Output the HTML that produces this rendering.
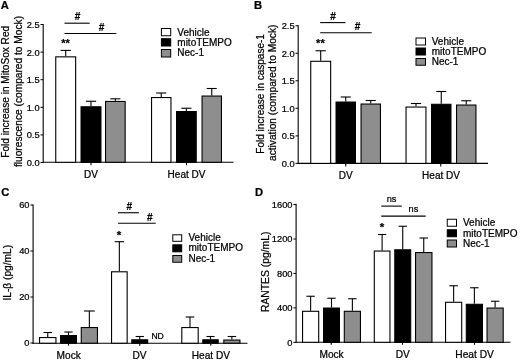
<!DOCTYPE html>
<html><head><meta charset="utf-8"><title>Figure</title>
<style>
html,body{margin:0;padding:0;background:#fff;}
svg{display:block;font-family:"Liberation Sans",sans-serif;fill:#000;}
text{stroke:#000;stroke-width:0.24;}
</style></head>
<body>
<svg width="520" height="360" viewBox="0 0 520 360">
<defs><filter id="soft" x="0" y="0" width="520" height="360" filterUnits="userSpaceOnUse"><feGaussianBlur stdDeviation="0.3"/></filter></defs>
<rect x="0" y="0" width="520" height="360" fill="#fff"/>
<g filter="url(#soft)">
<rect x="0" y="0" width="520" height="360" fill="#fff"/>
<text x="0.8" y="9.4" font-size="11.2" text-anchor="start" font-weight="bold" >A</text>
<line x1="43.2" y1="24" x2="43.2" y2="162.9" stroke="#000" stroke-width="1.1"/>
<line x1="42.6" y1="162.3" x2="233.5" y2="162.3" stroke="#000" stroke-width="1.1"/>
<line x1="40.5" y1="24.5" x2="43.2" y2="24.5" stroke="#000" stroke-width="1.0"/>
<text x="39.6" y="27.9" font-size="9.3" text-anchor="end" font-weight="normal" >2.5</text>
<line x1="40.5" y1="52.1" x2="43.2" y2="52.1" stroke="#000" stroke-width="1.0"/>
<text x="39.6" y="55.5" font-size="9.3" text-anchor="end" font-weight="normal" >2.0</text>
<line x1="40.5" y1="79.7" x2="43.2" y2="79.7" stroke="#000" stroke-width="1.0"/>
<text x="39.6" y="83.10000000000001" font-size="9.3" text-anchor="end" font-weight="normal" >1.5</text>
<line x1="40.5" y1="107.3" x2="43.2" y2="107.3" stroke="#000" stroke-width="1.0"/>
<text x="39.6" y="110.7" font-size="9.3" text-anchor="end" font-weight="normal" >1.0</text>
<line x1="40.5" y1="134.9" x2="43.2" y2="134.9" stroke="#000" stroke-width="1.0"/>
<text x="39.6" y="138.3" font-size="9.3" text-anchor="end" font-weight="normal" >0.5</text>
<line x1="40.5" y1="162.5" x2="43.2" y2="162.5" stroke="#000" stroke-width="1.0"/>
<text x="39.6" y="165.9" font-size="9.3" text-anchor="end" font-weight="normal" >0.0</text>
<text transform="translate(9.1,91.8) rotate(-90)" font-size="10.1" text-anchor="middle">Fold increase in MitoSox Red</text>
<text transform="translate(21.8,91.5) rotate(-90)" font-size="10.2" text-anchor="middle">fluorescence (compared to Mock)</text>
<line x1="65.7" y1="50.4" x2="65.7" y2="56.3" stroke="#000" stroke-width="1.1"/>
<line x1="60.55500000000001" y1="50.4" x2="70.845" y2="50.4" stroke="#000" stroke-width="1.1"/>
<rect x="55.75" y="56.849999999999994" width="19.9" height="105.45000000000002" fill="#fff" stroke="#000" stroke-width="1.1"/>
<line x1="91.0" y1="101.25" x2="91.0" y2="106.25" stroke="#000" stroke-width="1.1"/>
<line x1="85.855" y1="101.25" x2="96.145" y2="101.25" stroke="#000" stroke-width="1.1"/>
<rect x="81.05" y="106.8" width="19.9" height="55.500000000000014" fill="#000" stroke="#000" stroke-width="1.1"/>
<line x1="115.35" y1="98.8" x2="115.35" y2="100.9" stroke="#000" stroke-width="1.1"/>
<line x1="110.2785" y1="98.8" x2="120.4215" y2="98.8" stroke="#000" stroke-width="1.1"/>
<rect x="105.55" y="101.45" width="19.6" height="60.85000000000001" fill="#8e8e8e" stroke="#000" stroke-width="1.1"/>
<line x1="161.25" y1="93" x2="161.25" y2="97" stroke="#000" stroke-width="1.1"/>
<line x1="156.2275" y1="93" x2="166.2725" y2="93" stroke="#000" stroke-width="1.1"/>
<rect x="151.55" y="97.55" width="19.4" height="64.75000000000001" fill="#fff" stroke="#000" stroke-width="1.1"/>
<line x1="186.375" y1="108.25" x2="186.375" y2="111" stroke="#000" stroke-width="1.1"/>
<line x1="181.29125" y1="108.25" x2="191.45875" y2="108.25" stroke="#000" stroke-width="1.1"/>
<rect x="176.55" y="111.55" width="19.65" height="50.750000000000014" fill="#000" stroke="#000" stroke-width="1.1"/>
<line x1="211.75" y1="88.5" x2="211.75" y2="95.5" stroke="#000" stroke-width="1.1"/>
<line x1="206.7275" y1="88.5" x2="216.7725" y2="88.5" stroke="#000" stroke-width="1.1"/>
<rect x="202.05" y="96.05" width="19.4" height="66.25000000000001" fill="#8e8e8e" stroke="#000" stroke-width="1.1"/>
<line x1="91" y1="162.3" x2="91" y2="165.3" stroke="#000" stroke-width="1.1"/>
<line x1="186.5" y1="162.3" x2="186.5" y2="165.3" stroke="#000" stroke-width="1.1"/>
<text x="91" y="177.5" font-size="10" text-anchor="middle" font-weight="normal" >DV</text>
<text x="186.5" y="177.5" font-size="10" text-anchor="middle" font-weight="normal" >Heat DV</text>
<line x1="64.5" y1="23.2" x2="89.7" y2="23.2" stroke="#000" stroke-width="1.1"/>
<text x="77.5" y="20" font-size="11" text-anchor="middle" font-weight="bold" textLength="5.6" lengthAdjust="spacingAndGlyphs">#</text>
<line x1="64.5" y1="33.45" x2="116.3" y2="33.45" stroke="#000" stroke-width="1.1"/>
<text x="101.5" y="30.6" font-size="11" text-anchor="middle" font-weight="bold" textLength="5.6" lengthAdjust="spacingAndGlyphs">#</text>
<text x="65.5" y="46.7" font-size="11" text-anchor="middle" font-weight="bold" >**</text>
<rect x="161.4" y="28.5" width="9.299999999999983" height="7.25" fill="#fff" stroke="#000" stroke-width="1"/>
<text x="177.3" y="35.5" font-size="10" text-anchor="start" font-weight="normal" >Vehicle</text>
<rect x="161.4" y="38.7" width="9.299999999999983" height="7.299999999999997" fill="#000" stroke="#000" stroke-width="1"/>
<text x="177.3" y="45.7" font-size="10" text-anchor="start" font-weight="normal" >mitoTEMPO</text>
<rect x="161.4" y="49.5" width="9.299999999999983" height="7.5" fill="#8e8e8e" stroke="#000" stroke-width="1"/>
<text x="177.3" y="56.2" font-size="10" text-anchor="start" font-weight="normal" >Nec-1</text>
<text x="254.1" y="8.9" font-size="11.2" text-anchor="start" font-weight="bold" >B</text>
<line x1="298.2" y1="25.2" x2="298.2" y2="164.0" stroke="#000" stroke-width="1.1"/>
<line x1="297.59999999999997" y1="163.4" x2="488" y2="163.4" stroke="#000" stroke-width="1.1"/>
<line x1="295.5" y1="25.75" x2="298.2" y2="25.75" stroke="#000" stroke-width="1.0"/>
<text x="294.59999999999997" y="29.15" font-size="9.3" text-anchor="end" font-weight="normal" >2.5</text>
<line x1="295.5" y1="53.25" x2="298.2" y2="53.25" stroke="#000" stroke-width="1.0"/>
<text x="294.59999999999997" y="56.65" font-size="9.3" text-anchor="end" font-weight="normal" >2.0</text>
<line x1="295.5" y1="80.75" x2="298.2" y2="80.75" stroke="#000" stroke-width="1.0"/>
<text x="294.59999999999997" y="84.15" font-size="9.3" text-anchor="end" font-weight="normal" >1.5</text>
<line x1="295.5" y1="108.25" x2="298.2" y2="108.25" stroke="#000" stroke-width="1.0"/>
<text x="294.59999999999997" y="111.65" font-size="9.3" text-anchor="end" font-weight="normal" >1.0</text>
<line x1="295.5" y1="135.9" x2="298.2" y2="135.9" stroke="#000" stroke-width="1.0"/>
<text x="294.59999999999997" y="139.3" font-size="9.3" text-anchor="end" font-weight="normal" >0.5</text>
<line x1="295.5" y1="163.4" x2="298.2" y2="163.4" stroke="#000" stroke-width="1.0"/>
<text x="294.59999999999997" y="166.8" font-size="9.3" text-anchor="end" font-weight="normal" >0.0</text>
<text transform="translate(263.6,93.9) rotate(-90)" font-size="10.0" text-anchor="middle">Fold increase in caspase-1</text>
<text transform="translate(276.3,92.8) rotate(-90)" font-size="10.2" text-anchor="middle">activation (compared to Mock)</text>
<line x1="320.7" y1="50.75" x2="320.7" y2="60.75" stroke="#000" stroke-width="1.1"/>
<line x1="315.555" y1="50.75" x2="325.84499999999997" y2="50.75" stroke="#000" stroke-width="1.1"/>
<rect x="310.75" y="61.3" width="19.9" height="102.10000000000001" fill="#fff" stroke="#000" stroke-width="1.1"/>
<line x1="345.75" y1="97" x2="345.75" y2="101.5" stroke="#000" stroke-width="1.1"/>
<line x1="340.7275" y1="97" x2="350.7725" y2="97" stroke="#000" stroke-width="1.1"/>
<rect x="336.05" y="102.05" width="19.4" height="61.35000000000001" fill="#000" stroke="#000" stroke-width="1.1"/>
<line x1="370.75" y1="100.5" x2="370.75" y2="103.5" stroke="#000" stroke-width="1.1"/>
<line x1="365.7275" y1="100.5" x2="375.7725" y2="100.5" stroke="#000" stroke-width="1.1"/>
<rect x="361.05" y="104.05" width="19.4" height="59.35000000000001" fill="#8e8e8e" stroke="#000" stroke-width="1.1"/>
<line x1="416.0" y1="103.5" x2="416.0" y2="106.5" stroke="#000" stroke-width="1.1"/>
<line x1="410.855" y1="103.5" x2="421.145" y2="103.5" stroke="#000" stroke-width="1.1"/>
<rect x="406.05" y="107.05" width="19.9" height="56.35000000000001" fill="#fff" stroke="#000" stroke-width="1.1"/>
<line x1="441.25" y1="91.5" x2="441.25" y2="103.75" stroke="#000" stroke-width="1.1"/>
<line x1="436.2275" y1="91.5" x2="446.2725" y2="91.5" stroke="#000" stroke-width="1.1"/>
<rect x="431.55" y="104.3" width="19.4" height="59.10000000000001" fill="#000" stroke="#000" stroke-width="1.1"/>
<line x1="466.25" y1="100.75" x2="466.25" y2="104.5" stroke="#000" stroke-width="1.1"/>
<line x1="461.2275" y1="100.75" x2="471.2725" y2="100.75" stroke="#000" stroke-width="1.1"/>
<rect x="456.55" y="105.05" width="19.4" height="58.35000000000001" fill="#8e8e8e" stroke="#000" stroke-width="1.1"/>
<line x1="345.75" y1="163.4" x2="345.75" y2="166.4" stroke="#000" stroke-width="1.1"/>
<line x1="440.75" y1="163.4" x2="440.75" y2="166.4" stroke="#000" stroke-width="1.1"/>
<text x="345.75" y="178.6" font-size="10" text-anchor="middle" font-weight="normal" >DV</text>
<text x="441" y="178.6" font-size="10" text-anchor="middle" font-weight="normal" >Heat DV</text>
<line x1="320.2" y1="22.6" x2="345.5" y2="22.6" stroke="#000" stroke-width="1.1"/>
<text x="333" y="19.8" font-size="11" text-anchor="middle" font-weight="bold" textLength="5.6" lengthAdjust="spacingAndGlyphs">#</text>
<line x1="320.2" y1="32.7" x2="371.7" y2="32.7" stroke="#000" stroke-width="1.1"/>
<text x="357.5" y="30" font-size="11" text-anchor="middle" font-weight="bold" textLength="5.6" lengthAdjust="spacingAndGlyphs">#</text>
<text x="320.4" y="47.0" font-size="11" text-anchor="middle" font-weight="bold" >**</text>
<rect x="416.0" y="38.0" width="9.5" height="7.0" fill="#fff" stroke="#000" stroke-width="1"/>
<text x="431.75" y="44.8" font-size="10" text-anchor="start" font-weight="normal" >Vehicle</text>
<rect x="416.0" y="48.0" width="9.5" height="7.0" fill="#000" stroke="#000" stroke-width="1"/>
<text x="431.75" y="55" font-size="10" text-anchor="start" font-weight="normal" >mitoTEMPO</text>
<rect x="416.0" y="58.5" width="9.5" height="6.75" fill="#8e8e8e" stroke="#000" stroke-width="1"/>
<text x="431.75" y="65.25" font-size="10" text-anchor="start" font-weight="normal" >Nec-1</text>
<text x="1.3" y="195.9" font-size="11.2" text-anchor="start" font-weight="bold" >C</text>
<line x1="33.1" y1="204.5" x2="33.1" y2="343.8" stroke="#000" stroke-width="1.1"/>
<line x1="32.5" y1="343.2" x2="247.5" y2="343.2" stroke="#000" stroke-width="1.1"/>
<line x1="30.400000000000002" y1="205" x2="33.1" y2="205" stroke="#000" stroke-width="1.0"/>
<text x="29.5" y="208.4" font-size="9.3" text-anchor="end" font-weight="normal" >60</text>
<line x1="30.400000000000002" y1="251" x2="33.1" y2="251" stroke="#000" stroke-width="1.0"/>
<text x="29.5" y="254.4" font-size="9.3" text-anchor="end" font-weight="normal" >40</text>
<line x1="30.400000000000002" y1="297" x2="33.1" y2="297" stroke="#000" stroke-width="1.0"/>
<text x="29.5" y="300.4" font-size="9.3" text-anchor="end" font-weight="normal" >20</text>
<line x1="30.400000000000002" y1="343" x2="33.1" y2="343" stroke="#000" stroke-width="1.0"/>
<text x="29.5" y="346.4" font-size="9.3" text-anchor="end" font-weight="normal" >0</text>
<text transform="translate(10.8,272.7) rotate(-90)" font-size="10.2" text-anchor="middle">IL-β (pg/mL)</text>
<line x1="47.75" y1="332.5" x2="47.75" y2="337" stroke="#000" stroke-width="1.1"/>
<line x1="43.4625" y1="332.5" x2="52.0375" y2="332.5" stroke="#000" stroke-width="1.1"/>
<rect x="39.55" y="337.55" width="16.4" height="5.649999999999989" fill="#fff" stroke="#000" stroke-width="1.1"/>
<line x1="68.5" y1="332" x2="68.5" y2="335" stroke="#000" stroke-width="1.1"/>
<line x1="64.335" y1="332" x2="72.665" y2="332" stroke="#000" stroke-width="1.1"/>
<rect x="60.55" y="335.55" width="15.9" height="7.649999999999989" fill="#000" stroke="#000" stroke-width="1.1"/>
<line x1="89.35" y1="311" x2="89.35" y2="327" stroke="#000" stroke-width="1.1"/>
<line x1="83.94999999999999" y1="311" x2="94.75" y2="311" stroke="#000" stroke-width="1.1"/>
<rect x="81.25" y="327.55" width="16.199999999999996" height="15.649999999999988" fill="#8e8e8e" stroke="#000" stroke-width="1.1"/>
<line x1="119.35" y1="241.7" x2="119.35" y2="271.25" stroke="#000" stroke-width="1.1"/>
<line x1="114.64999999999999" y1="241.7" x2="124.05" y2="241.7" stroke="#000" stroke-width="1.1"/>
<rect x="111.55" y="271.8" width="15.600000000000003" height="71.39999999999999" fill="#fff" stroke="#000" stroke-width="1.1"/>
<line x1="139.75" y1="336.5" x2="139.75" y2="339.25" stroke="#000" stroke-width="1.1"/>
<line x1="135.585" y1="336.5" x2="143.915" y2="336.5" stroke="#000" stroke-width="1.1"/>
<rect x="131.8" y="339.8" width="15.9" height="3.399999999999989" fill="#000" stroke="#000" stroke-width="1.1"/>
<line x1="190.0" y1="317" x2="190.0" y2="327" stroke="#000" stroke-width="1.1"/>
<line x1="185.7125" y1="317" x2="194.2875" y2="317" stroke="#000" stroke-width="1.1"/>
<rect x="181.8" y="327.55" width="16.4" height="15.649999999999988" fill="#fff" stroke="#000" stroke-width="1.1"/>
<line x1="210.5" y1="336.5" x2="210.5" y2="339.25" stroke="#000" stroke-width="1.1"/>
<line x1="206.4575" y1="336.5" x2="214.5425" y2="336.5" stroke="#000" stroke-width="1.1"/>
<rect x="202.8" y="339.8" width="15.4" height="3.399999999999989" fill="#000" stroke="#000" stroke-width="1.1"/>
<line x1="231.875" y1="336.5" x2="231.875" y2="339.5" stroke="#000" stroke-width="1.1"/>
<line x1="227.64875" y1="336.5" x2="236.10125" y2="336.5" stroke="#000" stroke-width="1.1"/>
<rect x="223.8" y="340.05" width="16.15" height="3.149999999999989" fill="#8e8e8e" stroke="#000" stroke-width="1.1"/>
<line x1="68.5" y1="343.2" x2="68.5" y2="345.7" stroke="#000" stroke-width="1.1"/>
<line x1="139.75" y1="343.2" x2="139.75" y2="345.7" stroke="#000" stroke-width="1.1"/>
<line x1="210.75" y1="343.2" x2="210.75" y2="345.7" stroke="#000" stroke-width="1.1"/>
<text x="68.7" y="358.6" font-size="10.15" text-anchor="middle" font-weight="normal" >Mock</text>
<text x="139.6" y="358.5" font-size="10.15" text-anchor="middle" font-weight="normal" >DV</text>
<text x="210.9" y="358.5" font-size="10.15" text-anchor="middle" font-weight="normal" >Heat DV</text>
<text x="157.6" y="338.9" font-size="8.6" text-anchor="middle" font-weight="normal" >ND</text>
<line x1="118" y1="212.75" x2="138.9" y2="212.75" stroke="#000" stroke-width="1.1"/>
<text x="129.3" y="210" font-size="11" text-anchor="middle" font-weight="bold" textLength="5.6" lengthAdjust="spacingAndGlyphs">#</text>
<line x1="118" y1="223.25" x2="155.7" y2="223.25" stroke="#000" stroke-width="1.1"/>
<text x="149.7" y="220.8" font-size="11" text-anchor="middle" font-weight="bold" textLength="5.6" lengthAdjust="spacingAndGlyphs">#</text>
<text x="119" y="238.9" font-size="11.5" text-anchor="middle" font-weight="bold" >*</text>
<rect x="172.8" y="234.8" width="8.899999999999977" height="6.5" fill="#fff" stroke="#000" stroke-width="1"/>
<text x="188.5" y="241.2" font-size="10" text-anchor="start" font-weight="normal" >Vehicle</text>
<rect x="172.8" y="244.8" width="8.899999999999977" height="7.0" fill="#000" stroke="#000" stroke-width="1"/>
<text x="188.5" y="251.4" font-size="10" text-anchor="start" font-weight="normal" >mitoTEMPO</text>
<rect x="172.8" y="255.5" width="8.899999999999977" height="6.75" fill="#8e8e8e" stroke="#000" stroke-width="1"/>
<text x="188.5" y="261.8" font-size="10" text-anchor="start" font-weight="normal" >Nec-1</text>
<text x="255" y="196" font-size="11.2" text-anchor="start" font-weight="bold" >D</text>
<line x1="296.1" y1="203.7" x2="296.1" y2="342.90000000000003" stroke="#000" stroke-width="1.1"/>
<line x1="295.5" y1="342.3" x2="510.4" y2="342.3" stroke="#000" stroke-width="1.1"/>
<line x1="293.40000000000003" y1="204.5" x2="296.1" y2="204.5" stroke="#000" stroke-width="1.0"/>
<text x="292.5" y="207.9" font-size="9.3" text-anchor="end" font-weight="normal" >1600</text>
<line x1="293.40000000000003" y1="239" x2="296.1" y2="239" stroke="#000" stroke-width="1.0"/>
<text x="292.5" y="242.4" font-size="9.3" text-anchor="end" font-weight="normal" >1200</text>
<line x1="293.40000000000003" y1="273.45" x2="296.1" y2="273.45" stroke="#000" stroke-width="1.0"/>
<text x="292.5" y="276.84999999999997" font-size="9.3" text-anchor="end" font-weight="normal" >800</text>
<line x1="293.40000000000003" y1="307.9" x2="296.1" y2="307.9" stroke="#000" stroke-width="1.0"/>
<text x="292.5" y="311.29999999999995" font-size="9.3" text-anchor="end" font-weight="normal" >400</text>
<line x1="293.40000000000003" y1="342.4" x2="296.1" y2="342.4" stroke="#000" stroke-width="1.0"/>
<text x="292.5" y="345.79999999999995" font-size="9.3" text-anchor="end" font-weight="normal" >0</text>
<text transform="translate(268.6,271.8) rotate(-90)" font-size="10.35" text-anchor="middle">RANTES (pg/mL)</text>
<line x1="310.625" y1="296.25" x2="310.625" y2="310.75" stroke="#000" stroke-width="1.1"/>
<line x1="306.39875" y1="296.25" x2="314.85125" y2="296.25" stroke="#000" stroke-width="1.1"/>
<rect x="302.55" y="311.3" width="16.15" height="31.00000000000001" fill="#fff" stroke="#000" stroke-width="1.1"/>
<line x1="331.5" y1="298.25" x2="331.5" y2="307.5" stroke="#000" stroke-width="1.1"/>
<line x1="327.335" y1="298.25" x2="335.665" y2="298.25" stroke="#000" stroke-width="1.1"/>
<rect x="323.55" y="308.05" width="15.9" height="34.250000000000014" fill="#000" stroke="#000" stroke-width="1.1"/>
<line x1="352.375" y1="298.75" x2="352.375" y2="310.75" stroke="#000" stroke-width="1.1"/>
<line x1="348.14875" y1="298.75" x2="356.60125" y2="298.75" stroke="#000" stroke-width="1.1"/>
<rect x="344.3" y="311.3" width="16.15" height="31.00000000000001" fill="#8e8e8e" stroke="#000" stroke-width="1.1"/>
<line x1="382.125" y1="234.5" x2="382.125" y2="250.5" stroke="#000" stroke-width="1.1"/>
<line x1="378.02125" y1="234.5" x2="386.22875" y2="234.5" stroke="#000" stroke-width="1.1"/>
<rect x="374.3" y="251.05" width="15.65" height="91.25000000000001" fill="#fff" stroke="#000" stroke-width="1.1"/>
<line x1="402.75" y1="226.25" x2="402.75" y2="249.25" stroke="#000" stroke-width="1.1"/>
<line x1="398.585" y1="226.25" x2="406.915" y2="226.25" stroke="#000" stroke-width="1.1"/>
<rect x="394.8" y="249.8" width="15.9" height="92.50000000000001" fill="#000" stroke="#000" stroke-width="1.1"/>
<line x1="423.75" y1="238" x2="423.75" y2="252" stroke="#000" stroke-width="1.1"/>
<line x1="419.4625" y1="238" x2="428.0375" y2="238" stroke="#000" stroke-width="1.1"/>
<rect x="415.55" y="252.55" width="16.4" height="89.75000000000001" fill="#8e8e8e" stroke="#000" stroke-width="1.1"/>
<line x1="453.625" y1="285.75" x2="453.625" y2="301.75" stroke="#000" stroke-width="1.1"/>
<line x1="449.39875" y1="285.75" x2="457.85125" y2="285.75" stroke="#000" stroke-width="1.1"/>
<rect x="445.55" y="302.3" width="16.15" height="40.000000000000014" fill="#fff" stroke="#000" stroke-width="1.1"/>
<line x1="474.375" y1="287.75" x2="474.375" y2="303.75" stroke="#000" stroke-width="1.1"/>
<line x1="470.14875" y1="287.75" x2="478.60125" y2="287.75" stroke="#000" stroke-width="1.1"/>
<rect x="466.3" y="304.3" width="16.15" height="38.000000000000014" fill="#000" stroke="#000" stroke-width="1.1"/>
<line x1="495.125" y1="301.25" x2="495.125" y2="307.5" stroke="#000" stroke-width="1.1"/>
<line x1="490.89875" y1="301.25" x2="499.35125" y2="301.25" stroke="#000" stroke-width="1.1"/>
<rect x="487.05" y="308.05" width="16.15" height="34.250000000000014" fill="#8e8e8e" stroke="#000" stroke-width="1.1"/>
<line x1="331.25" y1="342.3" x2="331.25" y2="344.8" stroke="#000" stroke-width="1.1"/>
<line x1="402.5" y1="342.3" x2="402.5" y2="344.8" stroke="#000" stroke-width="1.1"/>
<line x1="474.5" y1="342.3" x2="474.5" y2="344.8" stroke="#000" stroke-width="1.1"/>
<text x="331.6" y="358.4" font-size="10.15" text-anchor="middle" font-weight="normal" >Mock</text>
<text x="402.8" y="358.3" font-size="10.15" text-anchor="middle" font-weight="normal" >DV</text>
<text x="474.6" y="358.3" font-size="10.2" text-anchor="middle" font-weight="normal" >Heat DV</text>
<line x1="381.25" y1="206.1" x2="401.75" y2="206.1" stroke="#000" stroke-width="1.1"/>
<text x="391.5" y="201.8" font-size="9.2" text-anchor="middle" font-weight="normal" >ns</text>
<line x1="381.25" y1="216.1" x2="425.7" y2="216.1" stroke="#000" stroke-width="1.1"/>
<text x="413.4" y="211.8" font-size="9.2" text-anchor="middle" font-weight="normal" >ns</text>
<text x="382.1" y="230.7" font-size="11.5" text-anchor="middle" font-weight="bold" >*</text>
<rect x="447.25" y="219.25" width="9.25" height="7.0" fill="#fff" stroke="#000" stroke-width="1"/>
<text x="463" y="226.2" font-size="10" text-anchor="start" font-weight="normal" >Vehicle</text>
<rect x="447.25" y="229.75" width="9.25" height="7.0" fill="#000" stroke="#000" stroke-width="1"/>
<text x="463" y="236.5" font-size="10" text-anchor="start" font-weight="normal" >mitoTEMPO</text>
<rect x="447.25" y="240.0" width="9.25" height="7.0" fill="#8e8e8e" stroke="#000" stroke-width="1"/>
<text x="463" y="247" font-size="10" text-anchor="start" font-weight="normal" >Nec-1</text>
</g>
</svg>
</body></html>
